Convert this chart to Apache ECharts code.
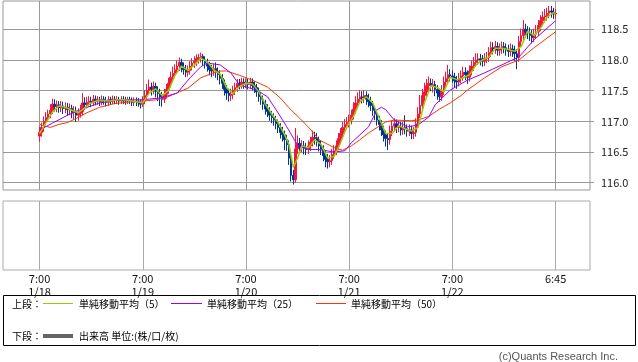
<!DOCTYPE html>
<html><head><meta charset="utf-8">
<script src="https://cdn.jsdelivr.net/npm/echarts@6/dist/echarts.min.js"></script>
<style>html,body{margin:0;padding:0;background:#fff}#c{width:638px;height:362px}</style>
</head><body><div id="c"></div>
<script>
// 30-minute candles, 1/18 7:00 -> 1/23 6:45
const open = [
116.76,116.82,116.90,117.00,117.06,117.12,117.18,117.28,117.24,117.27,117.22,117.25,
117.21,117.23,117.19,117.21,117.14,117.17,117.10,117.13,117.16,117.30,117.27,117.31,
117.33,117.30,117.36,117.33,117.35,117.32,117.36,117.34,117.31,117.35,117.33,117.36,
117.34,117.35,117.33,117.36,117.34,117.33,117.35,117.34,117.31,117.33,117.32,117.30,
117.28,117.33,117.42,117.50,117.56,117.52,117.57,117.49,117.45,117.40,117.36,117.44,
117.52,117.62,117.72,117.78,117.84,117.90,117.96,117.88,117.84,117.80,117.83,117.90,
117.95,117.98,118.02,118.04,118.06,118.00,117.95,117.90,117.84,117.82,117.86,117.80,
117.76,117.70,117.62,117.52,117.46,117.42,117.44,117.50,117.55,117.62,117.60,117.64,
117.61,117.63,117.60,117.64,117.58,117.55,117.48,117.40,117.36,117.28,117.20,117.16,
117.10,117.06,117.02,116.96,116.90,116.82,116.78,116.70,116.62,116.40,116.12,116.05,
116.55,116.64,116.58,116.60,116.56,116.54,116.60,116.66,116.74,116.72,116.68,116.60,
116.54,116.44,116.38,116.34,116.36,116.46,116.52,116.60,116.72,116.80,116.90,116.95,
116.98,117.02,117.10,117.20,117.30,117.36,117.40,117.38,117.42,117.36,117.32,117.26,
117.18,117.12,117.02,116.95,116.86,116.78,116.72,116.70,116.84,116.92,116.96,116.90,
116.92,116.86,116.90,116.88,116.84,116.86,116.80,116.82,116.96,117.12,117.26,117.42,
117.48,117.58,117.62,117.58,117.60,117.52,117.46,117.40,117.50,117.64,117.70,117.76,
117.74,117.72,117.66,117.64,117.70,117.74,117.80,117.76,117.72,117.82,117.90,117.96,
118.00,118.02,118.00,117.98,118.03,118.04,118.12,118.20,118.18,118.22,118.16,118.18,
118.22,118.20,118.16,118.14,118.18,118.16,118.10,118.04,118.30,118.40,118.50,118.46,
118.44,118.40,118.36,118.42,118.46,118.56,118.64,118.70,118.72,118.76,118.80,118.78,
118.75];
const close = [
116.82,116.90,117.00,117.06,117.12,117.18,117.28,117.24,117.27,117.22,117.25,117.21,
117.23,117.19,117.21,117.14,117.17,117.10,117.13,117.16,117.30,117.27,117.31,117.33,
117.30,117.36,117.33,117.35,117.32,117.36,117.34,117.31,117.35,117.33,117.36,117.34,
117.35,117.33,117.36,117.34,117.33,117.35,117.34,117.31,117.33,117.32,117.30,117.28,
117.33,117.42,117.50,117.56,117.52,117.57,117.49,117.45,117.40,117.36,117.44,117.52,
117.62,117.72,117.78,117.84,117.90,117.96,117.88,117.84,117.80,117.83,117.90,117.95,
117.98,118.02,118.04,118.06,118.00,117.95,117.90,117.84,117.82,117.86,117.80,117.76,
117.70,117.62,117.52,117.46,117.42,117.44,117.50,117.55,117.62,117.60,117.64,117.61,
117.63,117.60,117.64,117.58,117.55,117.48,117.40,117.36,117.28,117.20,117.16,117.10,
117.06,117.02,116.96,116.90,116.82,116.78,116.70,116.62,116.40,116.12,116.05,116.55,
116.64,116.58,116.60,116.56,116.54,116.60,116.66,116.74,116.72,116.68,116.60,116.54,
116.44,116.38,116.34,116.36,116.46,116.52,116.60,116.72,116.80,116.90,116.95,116.98,
117.02,117.10,117.20,117.30,117.36,117.40,117.38,117.42,117.36,117.32,117.26,117.18,
117.12,117.02,116.95,116.86,116.78,116.72,116.70,116.84,116.92,116.96,116.90,116.92,
116.86,116.90,116.88,116.84,116.86,116.80,116.82,116.96,117.12,117.26,117.42,117.48,
117.58,117.62,117.58,117.60,117.52,117.46,117.40,117.50,117.64,117.70,117.76,117.74,
117.72,117.66,117.64,117.70,117.74,117.80,117.76,117.72,117.82,117.90,117.96,118.00,
118.02,118.00,117.98,118.03,118.04,118.12,118.20,118.18,118.22,118.16,118.18,118.22,
118.20,118.16,118.14,118.18,118.16,118.10,118.04,118.30,118.40,118.50,118.46,118.44,
118.40,118.36,118.42,118.46,118.56,118.64,118.70,118.72,118.76,118.80,118.78,118.75,
118.76];
const high = [
116.91,116.98,117.08,117.15,117.19,117.28,117.37,117.36,117.34,117.33,117.33,117.32,
117.31,117.30,117.29,117.27,117.25,117.24,117.21,117.27,117.46,117.39,117.40,117.41,
117.40,117.43,117.42,117.41,117.40,117.42,117.41,117.40,117.41,117.40,117.42,117.41,
117.41,117.40,117.41,117.41,117.40,117.40,117.40,117.39,117.39,117.39,117.38,117.36,
117.41,117.51,117.61,117.68,117.63,117.65,117.63,117.57,117.53,117.48,117.53,117.61,
117.71,117.81,117.89,117.93,117.99,118.04,118.02,117.96,117.92,117.91,117.98,118.03,
118.06,118.09,118.10,118.12,118.10,118.06,118.02,117.97,117.92,117.94,117.96,117.88,
117.83,117.77,117.68,117.59,117.53,117.53,117.58,117.63,117.69,117.69,117.71,117.70,
117.70,117.69,117.71,117.70,117.65,117.61,117.55,117.48,117.42,117.35,117.28,117.23,
117.17,117.13,117.09,117.03,116.97,116.91,116.85,116.78,116.69,116.47,116.21,116.89,
116.77,116.73,116.69,116.68,116.65,116.69,116.75,116.85,116.83,116.81,116.75,116.68,
116.61,116.53,116.47,116.45,116.55,116.61,116.69,116.81,116.89,116.99,117.04,117.07,
117.11,117.19,117.31,117.41,117.47,117.50,117.49,117.51,117.49,117.45,117.40,117.33,
117.25,117.19,117.09,117.02,116.93,116.85,116.81,116.93,117.01,117.05,117.03,117.01,
116.99,116.99,117.10,116.95,116.95,116.93,116.91,117.05,117.23,117.43,117.53,117.63,
117.69,117.73,117.70,117.69,117.66,117.59,117.53,117.59,117.73,117.81,117.92,117.85,
117.83,117.79,117.74,117.79,117.83,117.89,117.88,117.83,117.91,117.99,118.05,118.11,
118.11,118.10,118.08,118.11,118.13,118.21,118.30,118.29,118.31,118.29,118.27,118.30,
118.29,118.27,118.25,118.27,118.25,118.23,118.17,118.39,118.51,118.65,118.59,118.55,
118.53,118.49,118.51,118.57,118.65,118.73,118.79,118.83,118.85,118.88,118.88,118.85,
118.83];
const low = [
116.67,116.75,116.83,116.95,116.99,117.05,117.12,117.16,117.15,117.14,117.15,117.12,
117.13,117.09,117.10,117.05,117.03,116.99,117.01,117.06,117.10,117.19,117.21,117.24,
117.23,117.25,117.26,117.27,117.25,117.26,117.27,117.24,117.25,117.27,117.28,117.28,
117.28,117.27,117.28,117.28,117.27,117.28,117.28,117.25,117.25,117.25,117.24,117.21,
117.23,117.28,117.36,117.44,117.42,117.44,117.39,117.33,117.25,117.24,117.30,117.37,
117.45,117.55,117.64,117.71,117.77,117.82,117.80,117.76,117.72,117.73,117.76,117.83,
117.87,117.90,117.94,117.96,117.91,117.86,117.81,117.75,117.72,117.74,117.71,117.67,
117.60,117.53,117.42,117.35,117.32,117.33,117.36,117.43,117.48,117.52,117.53,117.53,
117.54,117.52,117.53,117.50,117.46,117.40,117.32,117.27,117.19,117.11,117.07,117.01,
116.97,116.93,116.87,116.81,116.72,116.67,116.53,116.52,116.29,116.02,115.97,116.00,
116.47,116.47,116.49,116.46,116.45,116.47,116.52,116.59,116.62,116.59,116.51,116.45,
116.35,116.25,116.23,116.25,116.29,116.39,116.45,116.53,116.65,116.73,116.83,116.87,
116.90,116.95,117.03,117.12,117.22,117.28,117.29,117.30,117.27,117.23,117.17,117.09,
117.02,116.93,116.85,116.76,116.67,116.59,116.53,116.62,116.76,116.83,116.81,116.82,
116.77,116.78,116.79,116.75,116.76,116.71,116.71,116.75,116.89,117.05,117.17,117.33,
117.39,117.49,117.49,117.47,117.41,117.35,117.32,117.33,117.43,117.57,117.62,117.65,
117.63,117.55,117.53,117.57,117.62,117.66,117.67,117.61,117.65,117.75,117.82,117.89,
117.92,117.91,117.89,117.90,117.95,117.97,118.05,118.09,118.10,118.07,118.07,118.10,
118.11,118.07,118.05,118.06,118.05,117.99,117.85,117.97,118.22,118.32,118.37,118.34,
118.31,118.27,118.29,118.35,118.39,118.47,118.55,118.61,118.64,118.68,118.69,118.67,
118.67];
// moving averages: [candle index, value]
const ma5 = [[0,116.80],[3,116.98],[6,117.15],[9,117.25],[12,117.23],[15,117.18],[18,117.14],[21,117.22],[24,117.30],[27,117.34],[30,117.34],[33,117.33],[36,117.35],[39,117.35],[42,117.34],[45,117.32],[48,117.30],[51,117.46],[54,117.53],[57,117.42],[60,117.50],[63,117.75],[66,117.90],[69,117.83],[72,117.92],[75,118.03],[78,117.97],[81,117.84],[84,117.77],[87,117.55],[90,117.45],[93,117.57],[96,117.62],[99,117.61],[102,117.48],[105,117.28],[108,117.12],[111,116.98],[114,116.78],[116,116.62],[118,116.25],[120,116.40],[122,116.60],[125,116.57],[128,116.70],[131,116.62],[134,116.40],[137,116.43],[140,116.65],[143,116.92],[146,117.08],[149,117.32],[152,117.40],[155,117.30],[158,117.05],[161,116.80],[164,116.80],[167,116.93],[170,116.88],[173,116.84],[176,116.90],[179,117.30],[182,117.58],[185,117.55],[188,117.48],[191,117.72],[194,117.68],[197,117.71],[200,117.76],[203,117.92],[206,118.00],[209,118.05],[212,118.19],[215,118.19],[218,118.17],[221,118.14],[224,118.22],[227,118.47],[230,118.40],[233,118.52],[236,118.70],[239,118.77],[240,118.76]];
const ma25 = [[0,116.86],[6,116.97],[13,117.10],[19,117.19],[28,117.30],[37,117.35],[47,117.35],[56,117.38],[64,117.46],[70,117.71],[75,117.89],[78,117.95],[84,117.92],[89,117.79],[93,117.59],[101,117.51],[106,117.40],[110,117.19],[115,116.91],[119,116.67],[121,116.58],[126,116.54],[130,116.54],[137,116.50],[142,116.52],[145,116.65],[153,116.91],[157,117.19],[159,117.23],[161,117.19],[165,117.02],[171,116.91],[176,116.94],[181,117.07],[184,117.27],[191,117.51],[199,117.67],[207,117.79],[215,117.92],[223,118.05],[230,118.33],[240,118.64]];
const ma50 = [[0,116.95],[5,116.90],[9,116.95],[13,116.98],[19,117.08],[22,117.14],[28,117.23],[35,117.29],[43,117.32],[48,117.33],[54,117.35],[59,117.39],[65,117.48],[69,117.54],[75,117.71],[81,117.79],[84,117.82],[87,117.82],[93,117.75],[99,117.67],[106,117.56],[112,117.38],[116,117.22],[121,117.05],[126,116.87],[130,116.70],[137,116.57],[141,116.53],[145,116.60],[149,116.70],[153,116.81],[161,116.99],[165,117.02],[173,117.01],[176,117.02],[181,117.08],[186,117.20],[191,117.30],[196,117.42],[199,117.51],[207,117.71],[215,117.89],[223,118.00],[230,118.20],[240,118.46]];
const yTicks = [116.0, 116.5, 117.0, 117.5, 118.0, 118.5];
const tickCandles = [0, 48, 96, 144, 192, 240];
const tickTexts = ['7:00\n1/18', '7:00\n1/19', '7:00\n1/20', '7:00\n1/21', '7:00\n1/22', '6:45'];

const PAD_L = 17, PAD_R = 16, NC = open.length;
const categories = [];
for (let i = -PAD_L; i < NC + PAD_R; i++) {
  const m = 7 * 60 + 30 * i;
  const d = 18 + Math.floor(m / 1440);
  const mm = ((m % 1440) + 1440) % 1440;
  categories.push('1/' + d + ' ' + Math.floor(mm / 60) + ':' + String(mm % 60).padStart(2, '0'));
}
categories[PAD_L + NC - 1] = '1/23 6:45';
const labelMap = {};
tickCandles.forEach((k, j) => { labelMap[k + PAD_L] = tickTexts[j]; });
const isTick = (i) => labelMap[i] !== undefined;

const candle = open.map((o, k) => [k + PAD_L, o, close[k], low[k], high[k]]);
const shift = (arr) => arr.map(([k, v]) => [k + PAD_L, v]);

const UP = '#f5143c', DOWN = '#003399';
const FONT = '"Noto Sans CJK JP", "Noto Sans", sans-serif';
const GRID = '#999';

const xBase = {
  type: 'category', data: categories, boundaryGap: false,
  axisLine: { show: false }, axisTick: { show: false },
  splitLine: { show: true, interval: (i) => isTick(i), lineStyle: { color: GRID, width: 1 } }
};

const chart = echarts.init(document.getElementById('c'), null, { renderer: 'canvas' });
chart.setOption({
  animation: false,
  backgroundColor: '#fff',
  grid: [
    { left: 3, right: 48, top: 1, height: 189, show: true, borderColor: GRID, borderWidth: 1, backgroundColor: 'transparent' },
    { left: 3, right: 48, top: 201, height: 69, show: true, borderColor: '#aaa', borderWidth: 1, backgroundColor: 'transparent' }
  ],
  xAxis: [
    Object.assign({}, xBase, { gridIndex: 0, axisLabel: { show: false } }),
    Object.assign({}, xBase, { gridIndex: 1, splitLine: { show: true, interval: (i) => isTick(i), lineStyle: { color: '#aaa', width: 1 } },
      axisLabel: { show: true, interval: (i) => isTick(i), formatter: (v, i) => labelMap[i] || '',
        fontSize: 11, lineHeight: 13, color: '#111', margin: 2, fontFamily: FONT } })
  ],
  yAxis: [
    { gridIndex: 0, type: 'value', position: 'right', min: 115.881, max: 118.961,
      axisLine: { show: false },
      axisTick: { show: true, length: 4, customValues: yTicks, lineStyle: { color: GRID } },
      axisLabel: { customValues: yTicks, formatter: (v) => v.toFixed(1), margin: 11, fontSize: 11, color: '#222', fontFamily: FONT },
      splitLine: { show: true, lineStyle: { color: GRID, width: 1 } } },
    { gridIndex: 1, type: 'value', min: 0, max: 1, show: false }
  ],
  series: [
    { type: 'candlestick', xAxisIndex: 0, yAxisIndex: 0, data: candle, encode: { x: 0, y: [1, 2, 3, 4] },
      barWidth: 2, z: 2,
      itemStyle: { color: UP, color0: DOWN, borderColor: UP, borderColor0: DOWN, borderWidth: 1 } },
    { type: 'line', name: '単純移動平均(50)', data: shift(ma50), symbol: 'none', z: 3, lineStyle: { color: '#ff3300', width: 1 } },
    { type: 'line', name: '単純移動平均(25)', data: shift(ma25), symbol: 'none', z: 4, lineStyle: { color: '#9900ff', width: 1 } },
    { type: 'line', name: '単純移動平均(5)', data: shift(ma5), symbol: 'none', z: 5, lineStyle: { color: '#99cc00', width: 1.5 } }
  ],
  graphic: [
    { type: 'rect', shape: { x: 3.5, y: 295.5, width: 632, height: 50 }, style: { fill: '#fff', stroke: '#000', lineWidth: 1 }, z: 0 },
    { type: 'text', style: { text: '上段：', x: 12, y: 304, font: '10px ' + FONT, fill: '#000', verticalAlign: 'middle' } },
    { type: 'line', shape: { x1: 43, y1: 303.5, x2: 73, y2: 303.5 }, style: { stroke: '#99cc00', lineWidth: 1 } },
    { type: 'text', style: { text: '単純移動平均（5）', x: 79, y: 304, font: '10px ' + FONT, fill: '#000', verticalAlign: 'middle' } },
    { type: 'line', shape: { x1: 171, y1: 303.5, x2: 202, y2: 303.5 }, style: { stroke: '#9900ff', lineWidth: 1 } },
    { type: 'text', style: { text: '単純移動平均（25）', x: 207, y: 304, font: '10px ' + FONT, fill: '#000', verticalAlign: 'middle' } },
    { type: 'line', shape: { x1: 316, y1: 303.5, x2: 346, y2: 303.5 }, style: { stroke: '#ff3300', lineWidth: 1 } },
    { type: 'text', style: { text: '単純移動平均（50）', x: 351, y: 304, font: '10px ' + FONT, fill: '#000', verticalAlign: 'middle' } },
    { type: 'text', style: { text: '下段：', x: 12, y: 336, font: '10px ' + FONT, fill: '#000', verticalAlign: 'middle' } },
    { type: 'line', shape: { x1: 43, y1: 336, x2: 73, y2: 336 }, style: { stroke: '#666', lineWidth: 4 } },
    { type: 'text', style: { text: '出来高 単位:(株/口/枚)', x: 79, y: 336, font: '10px ' + FONT, fill: '#000', verticalAlign: 'middle' } },
    { type: 'text', style: { text: '(c)Quants Research Inc.', x: 618, y: 357, align: 'right', font: '11px "Liberation Sans", sans-serif', fill: '#555', verticalAlign: 'middle' } }
  ]
});
</script></body></html>
